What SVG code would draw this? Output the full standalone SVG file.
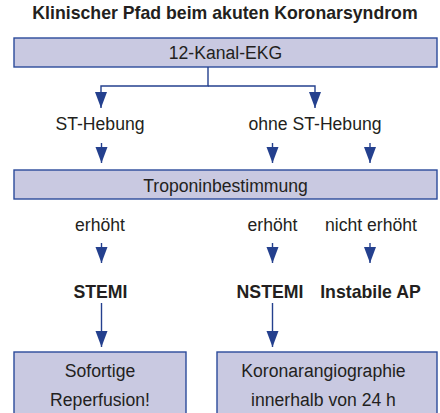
<svg xmlns="http://www.w3.org/2000/svg" width="440" height="413" viewBox="0 0 440 413">
  <style>
    .box { fill: #c9c9e1; stroke: #2b4a9b; stroke-width: 1.4; }
    .t { font-family: "Liberation Sans", Arial, Helvetica, sans-serif; font-size: 17.6px; fill: #231f20; text-anchor: middle; }
    .b { font-family: "Liberation Sans", Arial, Helvetica, sans-serif; font-size: 17.7px; font-weight: bold; fill: #231f20; text-anchor: middle; }
    .c { fill: none; stroke: #24408e; stroke-width: 1.4; }
  </style>
  <defs>
    <marker id="ah" markerUnits="userSpaceOnUse" markerWidth="13" markerHeight="17" viewBox="0 0 13 17" refX="6.5" refY="16" orient="0">
      <path d="M0.5,0 L12.5,0 L6.5,16 Z" fill="#24408e"/>
    </marker>
  </defs>
  <rect width="440" height="413" fill="#ffffff"/>
  <text class="b" x="225" y="18.5">Klinischer Pfad beim akuten Koronarsyndrom</text>

  <g id="ekg">
    <rect class="box" x="14" y="38" width="423" height="29"/>
    <text class="t" x="225.5" y="59">12-Kanal-EKG</text>
  </g>
  <g id="st-hebung"><text class="t" x="100" y="130">ST-Hebung</text></g>
  <g id="ohne-st-hebung"><text class="t" x="315" y="130">ohne ST-Hebung</text></g>
  <g id="troponin">
    <rect class="box" x="14" y="170" width="423" height="29"/>
    <text class="t" x="225.5" y="192">Troponinbestimmung</text>
  </g>
  <g id="erhoeht-1"><text class="t" x="100" y="230.5">erhöht</text></g>
  <g id="erhoeht-2"><text class="t" x="272.5" y="230.5">erhöht</text></g>
  <g id="nicht-erhoeht"><text class="t" x="371" y="230.5">nicht erhöht</text></g>
  <g id="stemi"><text class="b" x="100.5" y="298">STEMI</text></g>
  <g id="nstemi"><text class="b" x="270" y="298">NSTEMI</text></g>
  <g id="instabile-ap"><text class="b" x="370.5" y="298">Instabile AP</text></g>
  <g id="reperfusion">
    <rect class="box" x="14" y="352" width="172" height="70"/>
    <text class="t" x="100" y="377">Sofortige</text>
    <text class="t" x="100" y="406">Reperfusion!</text>
  </g>
  <g id="koronarangiographie">
    <rect class="box" x="217" y="352" width="220" height="70"/>
    <text class="t" x="323.5" y="377">Koronarangiographie</text>
    <text class="t" x="323.5" y="406">innerhalb von 24 h</text>
  </g>

  <g id="connectors">
    <path class="c" d="M208,67 V86 H101 V108" marker-end="url(#ah)"/>
    <path class="c" d="M208,86 H315 V108" marker-end="url(#ah)"/>
    <path class="c" d="M101.5,143 V163" marker-end="url(#ah)"/>
    <path class="c" d="M272.5,143 V163" marker-end="url(#ah)"/>
    <path class="c" d="M370,143 V163" marker-end="url(#ah)"/>
    <path class="c" d="M101.5,243 V263" marker-end="url(#ah)"/>
    <path class="c" d="M272.5,243 V263" marker-end="url(#ah)"/>
    <path class="c" d="M370,243 V263" marker-end="url(#ah)"/>
    <path class="c" d="M101.5,303 V347" marker-end="url(#ah)"/>
    <path class="c" d="M272.5,303 V347" marker-end="url(#ah)"/>
  </g>
</svg>
